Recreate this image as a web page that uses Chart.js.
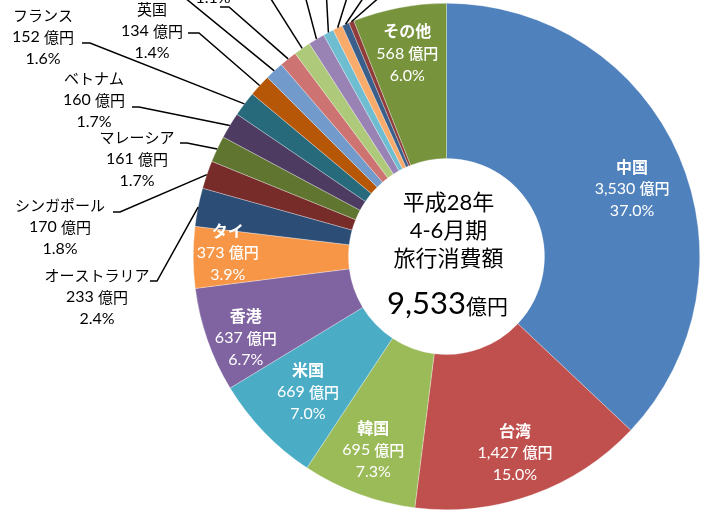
<!DOCTYPE html>
<html><head><meta charset="utf-8">
<script src="https://cdn.jsdelivr.net/npm/chart.js@4/dist/chart.umd.min.js"></script>
<style>html,body{margin:0;padding:0;background:#fff;}canvas{display:block;}</style>
</head><body>
<canvas id="c" width="710" height="520"></canvas>
<script>
const categories = ['中国','台湾','韓国','米国','香港','タイ','オーストラリア','シンガポール','マレーシア','ベトナム','フランス','英国','インドネシア','フィリピン','カナダ','ドイツ','インド','イタリア','スペイン','ロシア','その他'];
const values = [3530,1427,695,669,637,373,233,170,161,160,152,134,114,106,104,100,64,60,44,32,568];
const colors = ['#4F81BD','#C0504D','#9BBB59','#4BACC6','#8064A2','#F79646','#2C4D75','#772C2A','#5F7530','#4D3B62','#276A7C','#B65708','#729ACA','#CD7371','#AFC97A','#9983B5','#6FBDD1','#F9AB6B','#3A5F8B','#8F3C3A','#77933C'];
const unit = '億円';
const centerTitle = ['平成28年','4-6月期','旅行消費額'];

const total = values.reduce((a,b)=>a+b,0);
const pctText = v => (v/total*100).toFixed(1)+'%';
const fmt = v => v.toLocaleString('en-US');

const LAT = 'Lato, "Noto Sans CJK JP", sans-serif';
const CJK = '"Noto Sans CJK JP", sans-serif';

// inside label placement: index -> [radius fraction of outer radius, angle nudge (deg)]
const insideLabels = {0:[0.78,3.3],1:[0.82,0.5],2:[0.817,0.4],3:[0.765,-0.4],4:[0.855,-2.8],5:[0.864,1.2],20:[0.817,-0.2]};
// outside labels: index -> label centre x, first line y, leader start + elbow
const outsideLabels = {
  6:{x:97,y:275,lead:[[150,281],[157,281]]},
  7:{x:60,y:205,lead:[[113,212],[120,212]]},
  8:{x:137,y:137,lead:[[180,143],[187,143]]},
  9:{x:94,y:78,lead:[[132,107],[139,107]]},
  10:{x:43,y:15,lead:[[82,43],[90,43]]},
  11:{x:152,y:9,lead:[[188,33],[199,33]]},
  12:{x:130,y:-62,lead:[[160,-16],[168,-16]]},
  13:{x:213,y:-46,lead:[[220,7],[229,7]]},
  14:{x:262,y:-70,lead:[[264,-12],[264,-12]]},
  15:{x:300,y:-70,lead:[[303,-12],[303,-12]]},
  16:{x:326,y:-70,lead:[[326,-12],[326,-12]]},
  17:{x:350,y:-70,lead:[[350,-12],[350,-12]]},
  18:{x:370,y:-70,lead:[[370,-12],[370,-12]]},
  19:{x:390,y:-70,lead:[[390,-12],[390,-12]]}
};
const LINE = 22;

function drawRuns(ctx, runs, cx, cy){
  let w = 0;
  runs.forEach(r=>{ctx.font=r.font; r.w=ctx.measureText(r.text).width; w+=r.w;});
  let x = cx - w/2;
  ctx.textAlign='left';
  runs.forEach(r=>{ctx.font=r.font; ctx.fillText(r.text,x,cy); x+=r.w;});
}

const labelPlugin = {
  id:'labels',
  afterDatasetsDraw(chart){
    const ctx = chart.ctx;
    const meta = chart.getDatasetMeta(0);
    ctx.save();
    ctx.textBaseline='middle';
    meta.data.forEach((el,i)=>{
      const p = el.getProps(['x','y','startAngle','endAngle','outerRadius','innerRadius'],true);
      const mid = (p.startAngle+p.endAngle)/2;
      if (insideLabels[i]){
        const [f,nd] = insideLabels[i];
        const a = mid + nd*Math.PI/180;
        const cx = p.x + Math.cos(a)*p.outerRadius*f;
        const cy = p.y + Math.sin(a)*p.outerRadius*f;
        ctx.fillStyle='#ffffff';
        drawRuns(ctx,[{text:categories[i],font:'bold 16px '+CJK}],cx,cy-LINE);
        drawRuns(ctx,[{text:fmt(values[i])+' ',font:'16px '+LAT},{text:unit,font:'500 15px '+CJK}],cx,cy);
        drawRuns(ctx,[{text:pctText(values[i]),font:'16px '+LAT}],cx,cy+LINE);
      } else if (outsideLabels[i]){
        const L = outsideLabels[i];
        const ex = p.x + Math.cos(mid)*p.outerRadius;
        const ey = p.y + Math.sin(mid)*p.outerRadius;
        ctx.strokeStyle='#000'; ctx.lineWidth=1.5;
        ctx.beginPath();
        ctx.moveTo(L.lead[0][0],L.lead[0][1]);
        ctx.lineTo(L.lead[1][0],L.lead[1][1]);
        ctx.lineTo(ex,ey);
        ctx.stroke();
        ctx.fillStyle='#000';
        drawRuns(ctx,[{text:categories[i],font:'15px '+CJK}],L.x,L.y);
        drawRuns(ctx,[{text:fmt(values[i])+' ',font:'16px '+LAT},{text:unit,font:'15px '+CJK}],L.x,L.y+LINE);
        drawRuns(ctx,[{text:pctText(values[i]),font:'16px '+LAT}],L.x,L.y+2*LINE);
      }
    });
    // centre text
    const c = meta.data[0].getProps(['x','y'],true);
    ctx.fillStyle='#000';
    ctx.textBaseline='middle';
    centerTitle.forEach((t,k)=>{
      drawRuns(ctx,[{text:t,font:'22px '+LAT}],c.x+2,c.y-54+k*28);
    });
    ctx.textBaseline='alphabetic';
    drawRuns(ctx,[{text:fmt(total),font:'31px '+LAT},{text:unit,font:'21px '+CJK}],c.x+1,c.y+57);
    ctx.restore();
  }
};

new Chart(document.getElementById('c'),{
  type:'doughnut',
  data:{labels:categories,datasets:[{data:values,backgroundColor:colors,borderColor:'rgba(255,255,255,0.6)',borderWidth:0.5,hoverOffset:0}]},
  options:{
    responsive:false,animation:false,cutout:'38.7%',
    layout:{padding:{left:193,top:3,right:10,bottom:10}},
    plugins:{legend:{display:false},tooltip:{enabled:false}},
    events:[]
  },
  plugins:[labelPlugin]
});
</script>
</body></html>
